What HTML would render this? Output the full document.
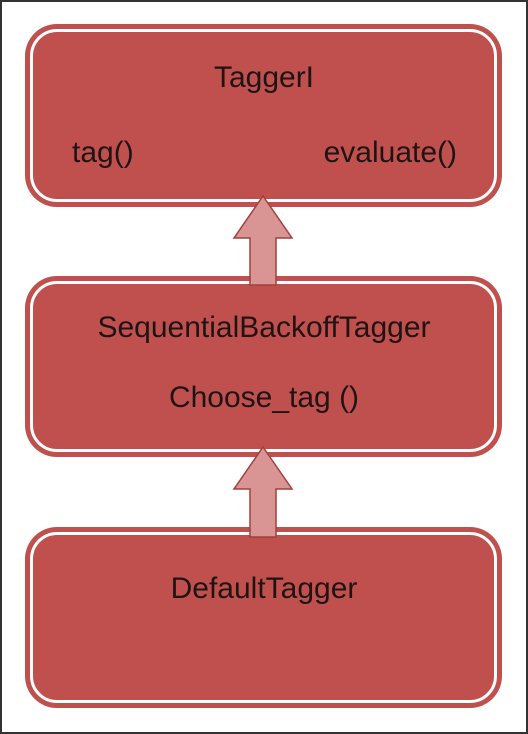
<!DOCTYPE html>
<html><head><style>
body{margin:0;width:528px;height:734px;background:#fff;position:relative;overflow:hidden;font-family:"Liberation Sans",sans-serif;}
.frame{position:absolute;left:0;top:0;width:524px;height:730px;border:2px solid #333;}
.box{position:absolute;left:25px;width:477px;background:#c0504d;border-radius:32px;}
.inner{position:absolute;left:5px;top:5px;right:5px;bottom:5px;border:3px solid #fff;border-radius:27px;}
.t{position:absolute;color:#1e1414;font-size:30px;white-space:nowrap;}
svg{position:absolute;left:0;top:0;}
</style></head><body>
<div class="frame"></div>
<div class="box" style="top:24px;height:183px"><div class="inner"></div></div>
<div class="box" style="top:276px;height:181px"><div class="inner"></div></div>
<div class="box" style="top:527px;height:181px"><div class="inner"></div></div>
<div class="t" style="left:0;width:528px;text-align:center;top:61px">TaggerI</div>
<div class="t" style="left:72px;top:136px">tag()</div>
<div class="t" style="right:71px;top:136px">evaluate()</div>
<div class="t" style="left:0;width:528px;text-align:center;top:311px">SequentialBackoffTagger</div>
<div class="t" style="left:0;width:528px;text-align:center;top:381px">Choose_tag ()</div>
<div class="t" style="left:0;width:528px;text-align:center;top:572px">DefaultTagger</div>
<svg width="528" height="734">
<polygon points="263,196 292,238 276,238 276,285 250,285 250,238 234,238" fill="#d99594" stroke="#a0403d" stroke-width="1.5"/>
<polygon points="263,447 292,489 276,489 276,537 250,537 250,489 234,489" fill="#d99594" stroke="#a0403d" stroke-width="1.5"/>
</svg>
</body></html>
